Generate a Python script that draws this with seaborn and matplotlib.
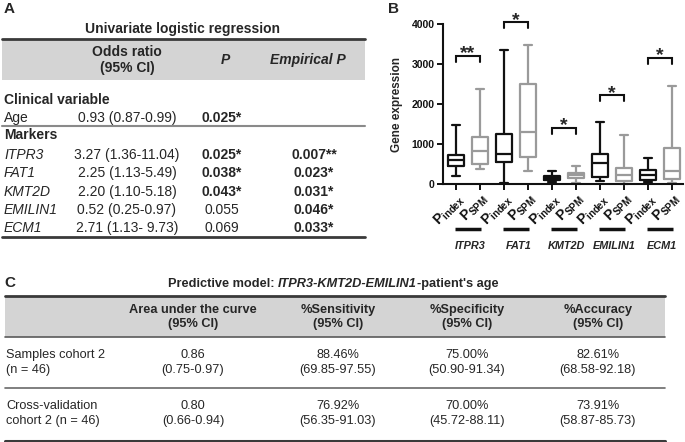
import matplotlib
matplotlib.use("Agg")
import matplotlib.pyplot as plt
import seaborn as sns
import pandas as pd
import numpy as np
from matplotlib.patches import Rectangle
from matplotlib.transforms import blended_transform_factory

# ---------------- data ----------------
# Panel A table
a_rows = ["ITPR3", "FAT1", "KMT2D", "EMILIN1", "ECM1"]
a_odds = ["3.27 (1.36-11.04)", "2.25 (1.13-5.49)", "2.20 (1.10-5.18)",
          "0.52 (0.25-0.97)", "2.71 (1.13- 9.73)"]
a_p = ["0.025*", "0.038*", "0.043*", "0.055", "0.069"]
a_emp = ["0.007**", "0.023*", "0.031*", "0.046*", "0.033*"]
age_odds = "0.93 (0.87-0.99)"
age_p = "0.025*"

# Panel B box summaries (whisker low, Q1, median, Q3, whisker high)
genes = ["ITPR3", "FAT1", "KMT2D", "EMILIN1", "ECM1"]
groups = ["index", "SPM"]
idx_low = [192, 25, 50, 67, 58]
idx_q1 = [442, 550, 92, 167, 92]
idx_med = [592, 750, 150, 525, 217]
idx_q3 = [717, 1250, 208, 750, 350]
idx_high = [1483, 3358, 333, 1542, 650]
spm_low = [375, 317, 25, 10, 25]
spm_q1 = [500, 667, 142, 67, 125]
spm_med = [833, 1292, 217, 217, 317]
spm_q3 = [1167, 2508, 283, 400, 900]
spm_high = [2375, 3483, 458, 1217, 2458]
sig_labels = ["**", "*", "*", "*", "*"]
bracket_y = [3208, 4042, 1400, 2217, 3150]

# Panel C table
c_cols = ["Area under the curve\n(95% CI)", "%Sensitivity\n(95% CI)",
          "%Specificity\n(95% CI)", "%Accuracy\n(95% CI)"]
c_rows = ["Samples cohort 2\n(n = 46)", "Cross-validation\ncohort 2 (n = 46)"]
c_vals = [["0.86\n(0.75-0.97)", "88.46%\n(69.85-97.55)", "75.00%\n(50.90-91.34)", "82.61%\n(68.58-92.18)"],
          ["0.80\n(0.66-0.94)", "76.92%\n(56.35-91.03)", "70.00%\n(45.72-88.11)", "73.91%\n(58.87-85.73)"]]

# ---------------- style ----------------
sns.set_theme(style="ticks")
plt.rcParams['font.family'] = ['Liberation Sans', 'DejaVu Sans']
plt.rcParams['mathtext.fontset'] = 'custom'
plt.rcParams['mathtext.rm'] = 'Liberation Sans'
plt.rcParams['mathtext.bf'] = 'Liberation Sans:bold'
plt.rcParams['mathtext.it'] = 'Liberation Sans:italic'

W, H = 685, 442
fig = plt.figure(figsize=(W / 100, H / 100), dpi=100)
fig.patch.set_facecolor("white")
ov = fig.add_axes([0, 0, 1, 1])
ov.set_xlim(0, W)
ov.set_ylim(H, 0)
ov.axis("off")

LINE = "#3a3a3a"
BAND = "#d4d4d4"
renderer = fig.canvas.get_renderer()

# ---------------- Panel A ----------------
FS = 10
ov.text(4, 9, "A", fontsize=11, fontweight="bold", va="center")
ov.text(183, 29, "Univariate logistic regression", ha="center", va="center",
        fontsize=FS, fontweight="bold")
ov.add_patch(Rectangle((2, 39), 363, 41, color=BAND, lw=0))
ov.plot([2, 365], [39, 39], color=LINE, lw=2)
ov.text(127, 60, "Odds ratio\n(95% CI)", ha="center", va="center", fontsize=FS,
        fontweight="bold", linespacing=1.15)
ov.text(225, 60, "P", ha="center", va="center", fontsize=FS, fontweight="bold", fontstyle="italic")
ov.text(308, 60, "Empirical P", ha="center", va="center", fontsize=FS, fontweight="bold",
        fontstyle="italic")
ov.text(4, 100, "Clinical variable", va="center", fontsize=FS, fontweight="bold")
ov.text(4, 118, "Age", va="center", fontsize=FS)
ov.text(127, 118, age_odds, ha="center", va="center", fontsize=FS)
ov.text(222, 118, age_p, ha="center", va="center", fontsize=FS,
        fontweight="bold" if "*" in age_p else "normal")
ov.plot([2, 365], [126, 126], color="#8a8a8a", lw=1.5)
ov.text(4, 135, "Markers", va="center", fontsize=FS, fontweight="bold")
for i, name in enumerate(a_rows):
    y = 155 + i * 18.3
    ov.text(4, y, name, va="center", fontsize=FS, fontstyle="italic")
    ov.text(127, y, a_odds[i], ha="center", va="center", fontsize=FS)
    ov.text(222, y, a_p[i], ha="center", va="center", fontsize=FS,
            fontweight="bold" if "*" in a_p[i] else "normal")
    ov.text(314, y, a_emp[i], ha="center", va="center", fontsize=FS,
            fontweight="bold" if "*" in a_emp[i] else "normal")
ov.plot([2, 365], [237, 237], color=LINE, lw=2)

# ---------------- Panel B ----------------
ov.text(388, 9, "B", fontsize=11, fontweight="bold", va="center")
records = []
order = []
for gi, g in enumerate(genes):
    for grp, stats in (("index", (idx_low, idx_q1, idx_med, idx_q3, idx_high)),
                       ("SPM", (spm_low, spm_q1, spm_med, spm_q3, spm_high))):
        key = f"{g}_{grp}"
        order.append(key)
        for s in stats:
            records.append({"box": key, "group": grp, "value": s[gi]})
df = pd.DataFrame(records)

ax = fig.add_axes([443 / W, 1 - 184 / H, 240 / W, 160 / H])
sns.boxplot(data=df, x="box", y="value", hue="group", order=order, hue_order=groups,
            palette={"index": "#111111", "SPM": "#9a9a9a"}, fill=False, dodge=False,
            whis=(0, 100), width=0.7, linewidth=1.6, showfliers=False, legend=False, ax=ax)
for art in ax.lines:
    art.set_clip_on(False)
ax.set_xlim(-0.54, 9.46)
ax.set_ylim(0, 4000)
ax.set_yticks([0, 1000, 2000, 3000, 4000])
ax.set_yticklabels(["0", "1000", "2000", "3000", "4000"], fontsize=7.5, fontweight="bold")
ax.set_ylabel("Gene expression", fontsize=8.5, fontweight="bold", labelpad=6)
ax.set_xlabel("")
labels = [r"$\mathbf{P}_{\mathbf{index}}$", r"$\mathbf{P}_{\mathbf{SPM}}$"] * len(genes)
ax.set_xticks(range(len(order)))
ax.set_xticklabels(labels, fontsize=10, rotation=45, ha="right", va="top",
                   rotation_mode="anchor")
for sp in ("top", "right"):
    ax.spines[sp].set_visible(False)
for sp in ("left", "bottom"):
    ax.spines[sp].set_linewidth(1.5)
    ax.spines[sp].set_color("#111111")
ax.tick_params(axis="both", direction="out", length=4, width=1.4, colors="#111111", pad=2)
ax.tick_params(axis="x", pad=1)
ax.set_facecolor("none")

trans = blended_transform_factory(ax.transData, ax.transAxes)
for gi, g in enumerate(genes):
    x0, x1 = 2 * gi, 2 * gi + 1
    y = bracket_y[gi]
    ax.plot([x0, x0, x1, x1], [y - 150, y, y, y - 150], color="#111111", lw=1.5,
            clip_on=False, solid_joinstyle="miter")
    ax.text((x0 + x1) / 2, y - 60, sig_labels[gi], ha="center", va="baseline",
            fontsize=14, fontweight="bold", clip_on=False)
    ax.plot([x0 - 0.05, x1 + 0.05], [-0.281, -0.281], transform=trans, color="#111111",
            lw=2.5, clip_on=False, solid_capstyle="butt")
    ax.text((x0 + x1) / 2 + 0.1, -0.385, g, transform=trans, ha="center", va="center",
            fontsize=7.8, fontweight="bold", fontstyle="italic")

# ---------------- Panel C ----------------
FC = 9.2
ov.text(4, 283, "C", fontsize=11, fontweight="bold", va="center")

pieces = [("Predictive model: ", "normal"), ("ITPR3-KMT2D-EMILIN1", "italic"),
          ("-patient's age", "normal")]
tx = []
for s, st in pieces:
    t = ov.text(0, 284, s, fontsize=FC, fontweight="bold", fontstyle=st,
                va="center", ha="left")
    tx.append(t)
widths = [t.get_window_extent(renderer).width for t in tx]
xcur = 333 - sum(widths) / 2
for t, w in zip(tx, widths):
    t.set_x(xcur)
    xcur += w

ov.add_patch(Rectangle((5, 296), 660, 41, color=BAND, lw=0))
ov.plot([5, 665], [296, 296], color=LINE, lw=2)
ov.plot([5, 665], [337, 337], color="#5a5a5a", lw=1.2)
col_x = [193, 338, 467, 598]
for cx, lab in zip(col_x, c_cols):
    ov.text(cx, 317, lab, ha="center", va="center", fontsize=FC, fontweight="bold",
            linespacing=1.2)
row_y = [362.5, 413.5]
for ry, rl, vals in zip(row_y, c_rows, c_vals):
    ov.text(6, ry, rl, ha="left", va="center", fontsize=FC, linespacing=1.27)
    for cx, v in zip(col_x, vals):
        ov.text(cx, ry, v, ha="center", va="center", fontsize=FC, linespacing=1.27)
ov.plot([5, 665], [388, 388], color="#6a6a6a", lw=1.2)
ov.plot([5, 665], [441, 441], color=LINE, lw=2.2)

fig.savefig("out.png", dpi=100, facecolor="white")
